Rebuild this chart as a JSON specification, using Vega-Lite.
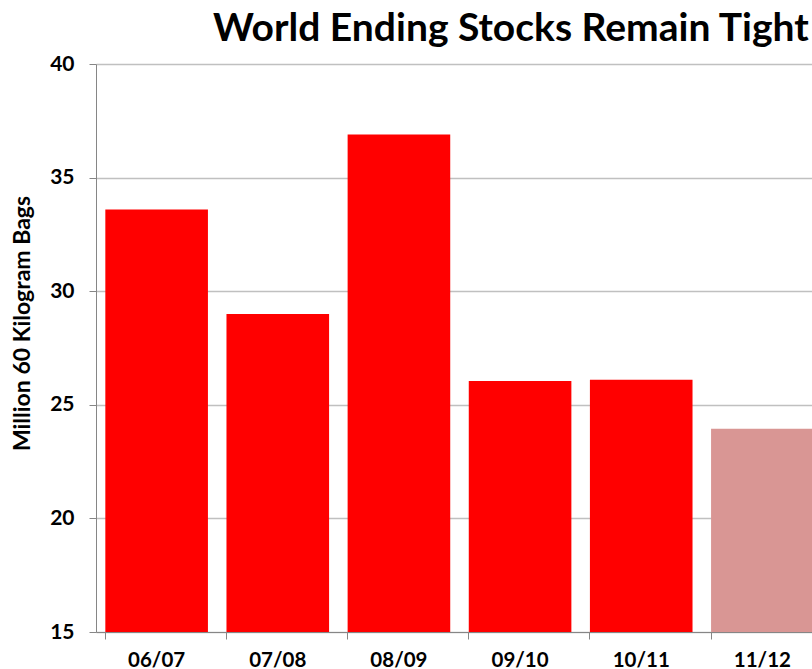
{
  "$schema": "https://vega.github.io/schema/vega-lite/v6.json",
  "autosize": "none",
  "width": 727,
  "height": 568,
  "padding": {"left": 96, "top": 64, "right": 0, "bottom": 37},
  "background": "white",
  "title": {
    "text": "World Ending Stocks Remain Tight",
    "anchor": "start",
    "frame": "group",
    "dx": 117,
    "offset": 4,
    "font": "Lato",
    "fontSize": 39,
    "fontWeight": "bold",
    "color": "black"
  },
  "data": {
    "values": [
      {"year": "06/07", "stocks": 33.6, "type": "actual"},
      {"year": "07/08", "stocks": 29.0, "type": "actual"},
      {"year": "08/09", "stocks": 36.9, "type": "actual"},
      {"year": "09/10", "stocks": 26.05, "type": "actual"},
      {"year": "10/11", "stocks": 26.1, "type": "actual"},
      {"year": "11/12", "stocks": 23.95, "type": "forecast"}
    ]
  },
  "mark": {"type": "bar", "clip": true},
  "encoding": {
    "x": {
      "field": "year",
      "type": "nominal",
      "sort": null,
      "scale": {"paddingInner": 0.153, "paddingOuter": 0.077},
      "axis": {
        "title": null,
        "labelAngle": 0,
        "labelFont": "Lato",
        "labelFontSize": 20.5,
        "labelFontWeight": "bold",
        "labelColor": "black",
        "labelPadding": 11,
        "bandPosition": 0,
        "tickSize": 7,
        "tickColor": "#868686",
        "domainColor": "#868686",
        "grid": false
      }
    },
    "y": {
      "field": "stocks",
      "type": "quantitative",
      "scale": {"domain": [15, 40], "zero": false, "nice": false},
      "axis": {
        "title": "Million 60 Kilogram Bags",
        "titleFont": "Lato",
        "titleFontSize": 23,
        "titleFontWeight": "bold",
        "titleColor": "black",
        "titleX": -74,
        "titleY": 259,
        "titleAlign": "center",
        "titleBaseline": "middle",
        "titleAngle": -90,
        "values": [15, 20, 25, 30, 35, 40],
        "labelFont": "Lato",
        "labelFontSize": 21,
        "labelFontWeight": "bold",
        "labelColor": "black",
        "labelPadding": 15,
        "tickSize": 7,
        "tickColor": "#868686",
        "domainColor": "#868686",
        "gridColor": "#c0c0c0",
        "gridWidth": 1.5
      }
    },
    "color": {
      "field": "type",
      "type": "nominal",
      "scale": {"domain": ["actual", "forecast"], "range": ["#ff0000", "#d99694"]},
      "legend": null
    }
  },
  "config": {"view": {"stroke": null}}
}
